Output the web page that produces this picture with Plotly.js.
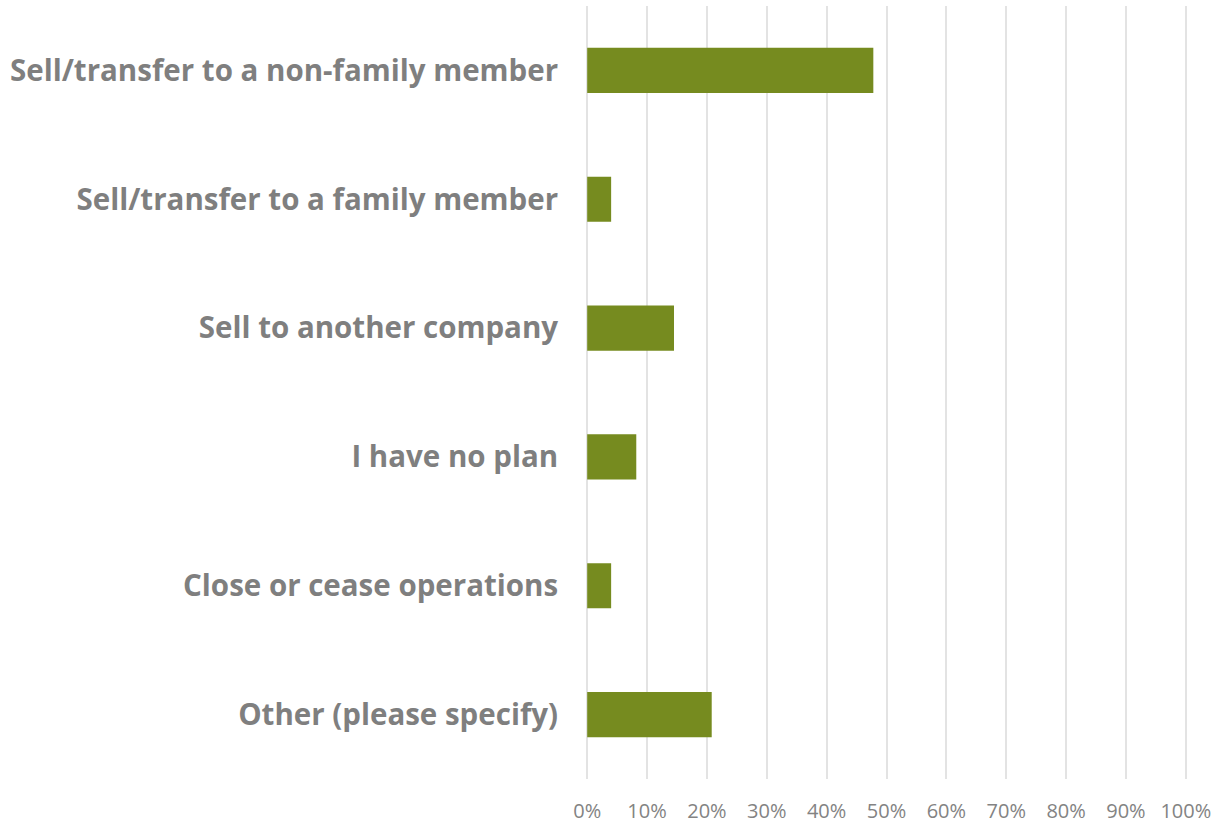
<!DOCTYPE html>
<html>
<head>
<meta charset="utf-8">
<script src="https://cdn.plot.ly/plotly-3.0.1.min.js"></script>
<style>html,body{margin:0;padding:0;background:#fff;}#chart{width:1220px;height:823px;}</style>
</head>
<body>
<div id="chart"></div>
<script>
const categories = [
  "Sell/transfer to a non-family member",
  "Sell/transfer to a family member",
  "Sell to another company",
  "I have no plan",
  "Close or cease operations",
  "Other (please specify)"
];
const values = [0.478, 0.040, 0.145, 0.082, 0.040, 0.208];
const tickVals = [0,0.1,0.2,0.3,0.4,0.5,0.6,0.7,0.8,0.9,1.0];
const tickText = ["0%","10%","20%","30%","40%","50%","60%","70%","80%","90%","100%"];

const trace = {
  type: "bar",
  orientation: "h",
  y: categories,
  x: values,
  width: 0.35,
  marker: {color: "#768B1F"},
  hoverinfo: "none"
};
const layout = {
  width: 1220, height: 823,
  margin: {l: 586, r: 33, t: 6, b: 44},
  paper_bgcolor: "#ffffff", plot_bgcolor: "#ffffff",
  showlegend: false,
  xaxis: {
    range: [-0.002, 1.002],
    tickvals: tickVals, ticktext: tickText,
    showgrid: true, gridcolor: "#E3E3E3", gridwidth: 2,
    zeroline: false, showline: false,
    ticks: "outside", ticklen: 14, tickcolor: "rgba(0,0,0,0)",
    tickfont: {family: "Open Sans, sans-serif", size: 20, color: "#838383"}
  },
  yaxis: {
    autorange: "reversed",
    showgrid: false, zeroline: false, showline: false,
    ticks: "outside", ticklen: 21, tickcolor: "rgba(0,0,0,0)",
    tickfont: {family: "Open Sans, sans-serif", size: 29.5, color: "#7F7F7F", weight: "bold"}
  }
};
Plotly.newPlot("chart", [trace], layout, {displayModeBar: false, staticPlot: true});
</script>
</body>
</html>
